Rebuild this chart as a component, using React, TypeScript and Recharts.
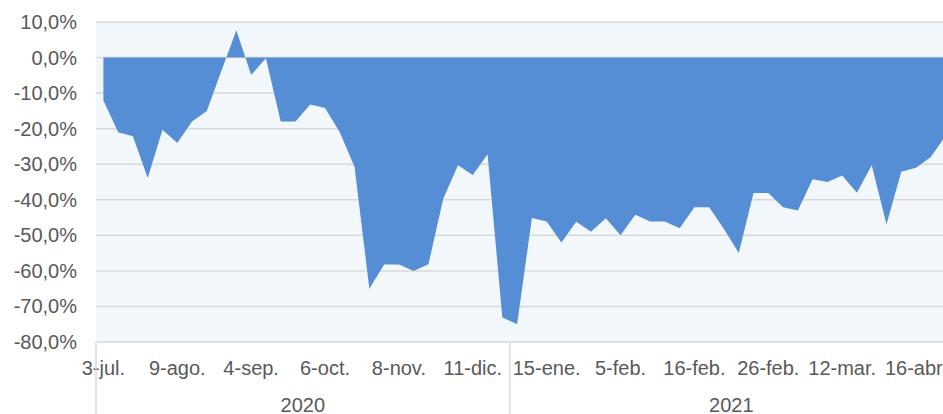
import { Area, AreaChart, CartesianGrid, XAxis, YAxis } from "recharts";

const DATES = [
  "3-jul.", "10-jul.", "17-jul.", "24-jul.", "31-jul.",
  "9-ago.", "14-ago.", "21-ago.", "28-ago.", "1-sep.",
  "4-sep.", "11-sep.", "18-sep.", "25-sep.", "30-sep.",
  "6-oct.", "13-oct.", "20-oct.", "27-oct.", "3-nov.",
  "8-nov.", "13-nov.", "20-nov.", "27-nov.", "4-dic.",
  "11-dic.", "17-dic.", "29-dic.", "5-ene.", "11-ene.",
  "15-ene.", "20-ene.", "25-ene.", "29-ene.", "2-feb.",
  "5-feb.", "8-feb.", "10-feb.", "12-feb.", "14-feb.",
  "16-feb.", "18-feb.", "20-feb.", "22-feb.", "24-feb.",
  "26-feb.", "1-mar.", "4-mar.", "7-mar.", "10-mar.",
  "12-mar.", "19-mar.", "26-mar.", "2-abr.", "9-abr.",
  "16-abr.", "23-abr.", "30-abr.",
];

const VALUES = [
  -12.1, -21.0, -22.1, -33.9, -20.3, -24.0, -18.0, -15.0, -3.6, 7.7,
  -4.9, -0.2, -18.0, -18.0, -13.2, -14.2, -21.0, -30.8, -65.0, -58.2,
  -58.2, -60.0, -58.1, -39.7, -30.3, -33.0, -27.2, -73.1, -75.0, -45.1,
  -46.1, -52.0, -46.2, -49.0, -45.2, -50.0, -44.2, -46.1, -46.1, -48.0,
  -42.1, -42.1, -48.2, -55.0, -38.1, -38.1, -42.1, -43.0, -34.2, -35.0,
  -33.2, -38.0, -30.3, -46.9, -32.1, -31.0, -28.0, -22.0,
];

const YEARS = ["2020", "2021"];
const YEAR_COUNTS = [28, 30];

const Y_TICKS = [10, 0, -10, -20, -30, -40, -50, -60, -70, -80];
const LABEL_EVERY = 5;

const data = DATES.map((date, i) => ({ date, value: VALUES[i] }));

const FONT = "'Liberation Sans', Arial, sans-serif";
const TEXT = "#595959";
const LINE = "#D9D9D9";

const W = 970;
const H = 414;
const M = { top: 22, right: 17, left: 0, bottom: 0 };
const Y_W = 96;
const X_H = 72;
const PLOT_W = W - M.left - M.right - Y_W;
const BAND = PLOT_W / DATES.length;
const STEP = (PLOT_W - BAND) / (DATES.length - 1);
const AXIS_Y = H - M.bottom - X_H;

const fmt = (v: number) => `${v.toFixed(1).replace(".", ",")}%`;

function YTick(props: any) {
  const { y, payload } = props;
  return (
    <text
      x={77}
      y={y}
      textAnchor="end"
      dominantBaseline="central"
      fontSize={20}
      fontFamily={FONT}
      fill={TEXT}
    >
      {fmt(payload.value)}
    </text>
  );
}

// group start indexes for the year level
const groupStarts: number[] = [];
YEAR_COUNTS.reduce((acc, n) => {
  groupStarts.push(acc);
  return acc + n;
}, 0);

function XTick(props: any) {
  const { x, index, payload } = props;
  const g = groupStarts.indexOf(index);
  return (
    <g>
      {index % LABEL_EVERY === 0 && (
        <text
          x={x}
          y={AXIS_Y + 26}
          textAnchor="middle"
          dominantBaseline="central"
          fontSize={20}
          fontFamily={FONT}
          fill={TEXT}
        >
          {payload.value}
        </text>
      )}
      {g >= 0 && (
        <>
          <line
            x1={x - BAND / 2}
            x2={x - BAND / 2}
            y1={AXIS_Y}
            y2={H}
            stroke={LINE}
            strokeWidth={1.5}
          />
          <text
            x={x + ((YEAR_COUNTS[g] - 1) / 2) * STEP}
            y={AXIS_Y + 63}
            textAnchor="middle"
            dominantBaseline="central"
            fontSize={20}
            fontFamily={FONT}
            fill={TEXT}
          >
            {YEARS[g]}
          </text>
        </>
      )}
    </g>
  );
}

export default function App() {
  return (
    <div
      style={{
        position: "fixed",
        left: 0,
        top: 0,
        width: 943,
        height: 414,
        overflow: "hidden",
        background: "#fff",
        fontFamily: FONT,
      }}
    >
      <AreaChart width={W} height={H} data={data} margin={M}>
        <CartesianGrid
          vertical={false}
          stroke={LINE}
          strokeWidth={1.5}
          fill="#F2F7FC"
          fillOpacity={1}
        />
        <XAxis
          dataKey="date"
          interval={0}
          height={X_H}
          axisLine={false}
          tickLine={false}
          padding={{ left: BAND / 2, right: BAND / 2 }}
          tick={<XTick />}
        />
        <YAxis
          width={Y_W}
          domain={[-80, 10]}
          ticks={Y_TICKS}
          axisLine={false}
          tickLine={false}
          tick={<YTick />}
        />
        <Area
          type="linear"
          dataKey="value"
          baseValue={0}
          stroke="none"
          fill="#558ED5"
          fillOpacity={1}
          dot={false}
          activeDot={false}
          isAnimationActive={false}
        />
      </AreaChart>
    </div>
  );
}
